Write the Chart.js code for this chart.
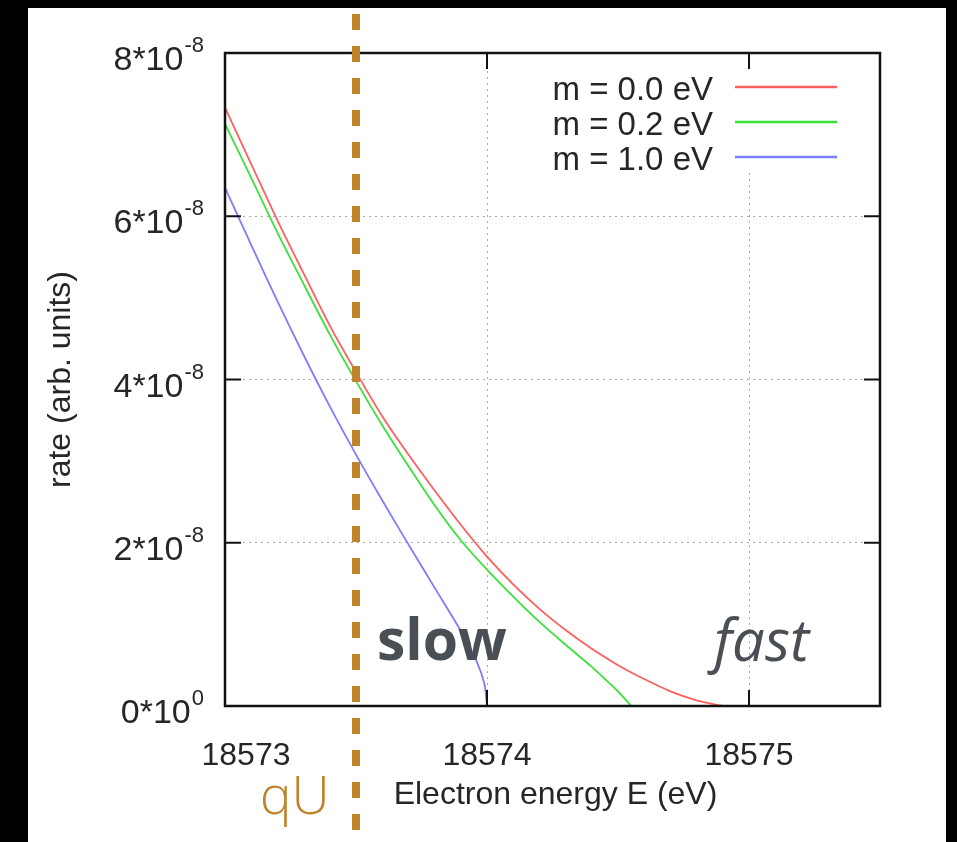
<!DOCTYPE html>
<html>
<head>
<meta charset="utf-8">
<script src="https://cdn.jsdelivr.net/npm/chart.js@4.4.1/dist/chart.umd.min.js"></script>
<style>
  html, body { margin: 0; padding: 0; background: #000; }
  #wrap { width: 957px; height: 842px; }
</style>
</head>
<body>
<div id="wrap"><canvas id="spectrum" width="957" height="842"></canvas></div>
<script>
// ------------------------------
//  Data (rate in units of 10^-8)
// ------------------------------
const energyM00 = [18573.0, 18573.1, 18573.2, 18573.3, 18573.4, 18573.5, 18573.6, 18573.7, 18573.8, 18573.9,
                   18574.0, 18574.1, 18574.2, 18574.3, 18574.4, 18574.5, 18574.6, 18574.7, 18574.8, 18574.9];
const rateM00   = [7.33, 6.64, 5.95, 5.30, 4.66, 4.09, 3.55, 3.08, 2.64, 2.22,
                   1.83, 1.49, 1.19, 0.93, 0.70, 0.50, 0.33, 0.18, 0.07, 0.0];

const energyM02 = [18573.0, 18573.1, 18573.2, 18573.3, 18573.4, 18573.5, 18573.6, 18573.7, 18573.8, 18573.9,
                   18574.0, 18574.1, 18574.2, 18574.3, 18574.4, 18574.45, 18574.5, 18574.55];
const rateM02   = [7.13, 6.47, 5.80, 5.17, 4.55, 3.98, 3.44, 2.94, 2.46, 2.03,
                   1.67, 1.34, 1.03, 0.75, 0.48, 0.33, 0.18, 0.0];

const energyM10 = [18573.0, 18573.1, 18573.2, 18573.3, 18573.4, 18573.5, 18573.6, 18573.7, 18573.8, 18573.9,
                   18573.96, 18573.99, 18574.0];
const rateM10   = [6.35, 5.65, 4.96, 4.30, 3.67, 3.08, 2.52, 1.98, 1.45, 0.92,
                   0.55, 0.27, 0.0];

const seriesLabels = ["m = 0.0 eV", "m = 0.2 eV", "m = 1.0 eV"];
const seriesColors = ["rgb(255,95,95)", "rgb(60,225,60)", "rgb(125,125,255)"];

const xTicks = [18573, 18574, 18575];
const yTicks = [0, 2, 4, 6, 8];
const yExponent = "-8";
const QU_ENERGY = 18573.5;

const ORANGE = "#bf842b";
const TEXT = "#262626";
const SANS = '"Liberation Sans", Arial, sans-serif';

function toPoints(xs, ys) {
  return xs.map((x, i) => ({ x: x, y: ys[i] }));
}

// ------------------------------
//  Custom drawing (gnuplot look)
// ------------------------------
const gnuplotFrame = {
  id: "gnuplotFrame",
  beforeDraw(chart) {
    const c = chart.ctx;
    c.save();
    c.fillStyle = "#000";
    c.fillRect(0, 0, chart.width, chart.height);
    c.fillStyle = "#fff";
    c.fillRect(28, 8, 918, 834);
    c.restore();
  },
  afterDatasetsDraw(chart) {
    const c = chart.ctx;
    const a = chart.chartArea;
    const xs = chart.scales.x;
    const ys = chart.scales.y;
    c.save();

    // legend box (hides the grid behind it)
    c.fillStyle = "#fff";
    c.fillRect(a.left + 300, a.top + 16, 330, 104);
    c.font = "33px " + SANS;
    c.textAlign = "right";
    c.textBaseline = "alphabetic";
    seriesLabels.forEach((lab, i) => {
      const base = a.top + 47 + i * 35;
      c.fillStyle = TEXT;
      c.fillText(lab, a.right - 167, base);
      c.strokeStyle = seriesColors[i];
      c.lineWidth = 2.5;
      c.beginPath();
      c.moveTo(a.right - 145, base - 13);
      c.lineTo(a.right - 43, base - 13);
      c.stroke();
    });

    // border
    c.strokeStyle = "#111";
    c.lineWidth = 2.5;
    c.strokeRect(a.left, a.top, a.right - a.left, a.bottom - a.top);

    // inward ticks on all four sides
    c.lineWidth = 2;
    c.beginPath();
    xTicks.forEach(v => {
      const px = xs.getPixelForValue(v);
      c.moveTo(px, a.bottom); c.lineTo(px, a.bottom - 16);
      c.moveTo(px, a.top); c.lineTo(px, a.top + 16);
    });
    yTicks.forEach(v => {
      const py = ys.getPixelForValue(v);
      c.moveTo(a.left, py); c.lineTo(a.left + 16, py);
      c.moveTo(a.right, py); c.lineTo(a.right - 16, py);
    });
    c.stroke();

    // x tick labels
    c.fillStyle = TEXT;
    c.font = "32px " + SANS;
    c.textAlign = "center";
    xTicks.forEach((v, i) => {
      const shift = i === 0 ? 21 : 0;
      c.fillText(String(v), xs.getPixelForValue(v) + shift, a.bottom + 59);
    });

    // y tick labels with superscript exponent
    c.textAlign = "right";
    yTicks.forEach(v => {
      const py = ys.getPixelForValue(v);
      const sup = v === 0 ? "0" : yExponent;
      c.font = "22px " + SANS;
      const w = c.measureText(sup).width;
      c.fillText(sup, 204, py - 1);
      c.font = "34px " + SANS;
      c.fillText(v + "*10", 204 - w - 1, py + 17);
    });

    // axis titles
    c.font = "32px " + SANS;
    c.textAlign = "center";
    c.fillText("Electron energy E (eV)", (a.left + a.right) / 2 + 3, a.bottom + 98);
    c.save();
    c.translate(70, (a.top + a.bottom) / 2);
    c.rotate(-Math.PI / 2);
    c.fillText("rate (arb. units)", 0, 0);
    c.restore();

    // retarding potential qU
    const qx = xs.getPixelForValue(QU_ENERGY);
    c.strokeStyle = ORANGE;
    c.lineWidth = 8;
    c.setLineDash([16, 16]);
    c.beginPath();
    c.moveTo(qx, 14);
    c.lineTo(qx, 830);
    c.stroke();
    c.setLineDash([]);

    // annotations
    c.textAlign = "left";
    c.fillStyle = "#4a4e55";
    c.font = 'bold 57px "Open Sans", "Noto Sans", sans-serif';
    c.fillText("slow", 377, 660);
    c.font = 'italic 58px "Open Sans", "Noto Sans", sans-serif';
    c.fillText("fast", 714, 661);
    c.fillStyle = ORANGE;
    c.font = '300 53px "Open Sans", "Noto Sans", sans-serif';
    c.fillText("qU", 260, 814);

    c.restore();
  }
};

// ------------------------------
//  Chart
// ------------------------------
const ctx = document.getElementById("spectrum").getContext("2d");

const spectrumChart = new Chart(ctx, {
  type: "line",
  data: {
    datasets: [
      { label: seriesLabels[0], data: toPoints(energyM00, rateM00), borderColor: seriesColors[0] },
      { label: seriesLabels[1], data: toPoints(energyM02, rateM02), borderColor: seriesColors[1] },
      { label: seriesLabels[2], data: toPoints(energyM10, rateM10), borderColor: seriesColors[2] }
    ]
  },
  options: {
    responsive: false,
    animation: false,
    devicePixelRatio: 1,
    layout: { padding: { left: 225, right: 77, top: 53, bottom: 136 } },
    elements: {
      line: { borderWidth: 1.8, tension: 0.3, fill: false },
      point: { radius: 0 }
    },
    scales: {
      x: {
        type: "linear",
        min: 18573,
        max: 18575.5,
        ticks: { stepSize: 1, display: false, includeBounds: false },
        grid: { color: "#aaa", lineWidth: 1, drawTicks: false },
        border: { display: false, dash: [2, 4] },
        afterFit: s => { s.height = 0; }
      },
      y: {
        min: 0,
        max: 8,
        ticks: { stepSize: 2, display: false },
        grid: { color: "#aaa", lineWidth: 1, drawTicks: false },
        border: { display: false, dash: [2, 4] },
        afterFit: s => { s.width = 0; }
      }
    },
    plugins: {
      legend: { display: false },
      tooltip: { enabled: false }
    }
  },
  plugins: [gnuplotFrame]
});
</script>
</body>
</html>
